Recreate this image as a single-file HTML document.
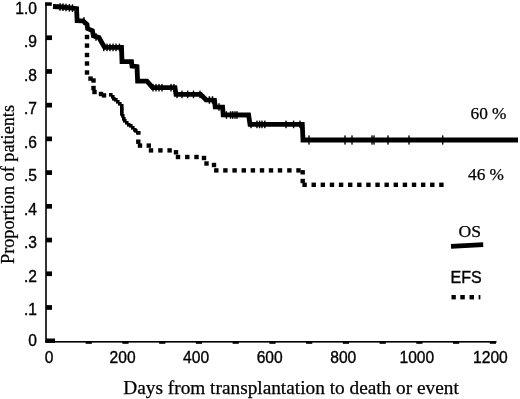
<!DOCTYPE html>
<html><head><meta charset="utf-8"><title>Survival</title>
<style>html,body{margin:0;padding:0;background:#fff}body{width:520px;height:399px;position:relative;overflow:hidden}</style>
</head><body>
<svg width="520" height="399" viewBox="0 0 520 399" style="position:absolute;left:0;top:0">
<rect x="45.2" y="2.5" width="1.6" height="340" fill="#000"/>
<rect x="45" y="341" width="451.5" height="1.6" fill="#000"/>
<rect x="46" y="338.5" width="9" height="4.5" fill="#000"/>
<rect x="46" y="305.13" width="6" height="4.7" fill="#000"/>
<rect x="46" y="271.41" width="6" height="4.7" fill="#000"/>
<rect x="46" y="237.69" width="6" height="4.7" fill="#000"/>
<rect x="46" y="203.97" width="6" height="4.7" fill="#000"/>
<rect x="46" y="170.25" width="6" height="4.7" fill="#000"/>
<rect x="46" y="136.53" width="6" height="4.7" fill="#000"/>
<rect x="46" y="102.81" width="6" height="4.7" fill="#000"/>
<rect x="46" y="69.09" width="6" height="4.7" fill="#000"/>
<rect x="46" y="35.37" width="6" height="4.7" fill="#000"/>
<rect x="45.2" y="2.3" width="6.6" height="3.5" fill="#000"/>
<rect x="85.64" y="342" width="6.2" height="1.8" fill="#000"/>
<rect x="122.38" y="342" width="6.2" height="1.8" fill="#000"/>
<rect x="159.12" y="342" width="6.2" height="1.8" fill="#000"/>
<rect x="195.86" y="342" width="6.2" height="1.8" fill="#000"/>
<rect x="232.60" y="342" width="6.2" height="1.8" fill="#000"/>
<rect x="269.34" y="342" width="6.2" height="1.8" fill="#000"/>
<rect x="306.08" y="342" width="6.2" height="1.8" fill="#000"/>
<rect x="342.82" y="342" width="6.2" height="1.8" fill="#000"/>
<rect x="379.56" y="342" width="6.2" height="1.8" fill="#000"/>
<rect x="416.30" y="342" width="6.2" height="1.8" fill="#000"/>
<rect x="453.04" y="342" width="6.2" height="1.8" fill="#000"/>
<rect x="489.78" y="342" width="6.2" height="1.8" fill="#000"/>
<polyline points="53,6.5 62,7 76.6,8.6 77.1,20.6 83,20.8 87,24.5 87.6,28.6 92.4,30.6 93.4,35.8 99,37.6 101.6,42.2 104.6,47.3 121.5,47.4 122,61.6 131.5,61.7 132,66 137,66.6 137.6,81.2 147,81.2 152.6,87.6 175,87.7 176,94.4 200.6,94.4 206,99.8 214.5,100.2 215.2,106.8 222.6,107 223.2,114.8 248.6,115 250,124.4 302.3,124.4 303,140 518,140" fill="none" stroke="#000" stroke-width="4.8" stroke-linejoin="miter"/>
<rect x="59.30" y="3.20" width="1.4" height="7.6" fill="#000"/>
<rect x="62.30" y="3.40" width="1.4" height="7.6" fill="#000"/>
<rect x="65.30" y="3.70" width="1.4" height="7.6" fill="#000"/>
<rect x="68.70" y="4.00" width="1.4" height="7.6" fill="#000"/>
<rect x="71.80" y="4.30" width="1.4" height="7.6" fill="#000"/>
<rect x="83.30" y="17.20" width="1.4" height="7.6" fill="#000"/>
<rect x="95.30" y="33.20" width="1.4" height="7.6" fill="#000"/>
<rect x="103.05" y="43.60" width="1.4" height="7.6" fill="#000"/>
<rect x="106.30" y="43.60" width="1.4" height="7.6" fill="#000"/>
<rect x="109.30" y="43.60" width="1.4" height="7.6" fill="#000"/>
<rect x="112.30" y="43.60" width="1.4" height="7.6" fill="#000"/>
<rect x="115.30" y="43.60" width="1.4" height="7.6" fill="#000"/>
<rect x="118.70" y="43.60" width="1.4" height="7.6" fill="#000"/>
<rect x="152.30" y="83.90" width="1.4" height="7.6" fill="#000"/>
<rect x="155.30" y="83.90" width="1.4" height="7.6" fill="#000"/>
<rect x="158.30" y="83.90" width="1.4" height="7.6" fill="#000"/>
<rect x="161.30" y="83.90" width="1.4" height="7.6" fill="#000"/>
<rect x="170.30" y="83.90" width="1.4" height="7.6" fill="#000"/>
<rect x="173.30" y="83.90" width="1.4" height="7.6" fill="#000"/>
<rect x="176.30" y="90.60" width="1.4" height="7.6" fill="#000"/>
<rect x="181.30" y="90.60" width="1.4" height="7.6" fill="#000"/>
<rect x="187.00" y="90.60" width="1.4" height="7.6" fill="#000"/>
<rect x="192.80" y="90.60" width="1.4" height="7.6" fill="#000"/>
<rect x="199.30" y="90.60" width="1.4" height="7.6" fill="#000"/>
<rect x="208.70" y="96.20" width="1.4" height="7.6" fill="#000"/>
<rect x="211.80" y="96.20" width="1.4" height="7.6" fill="#000"/>
<rect x="218.30" y="103.20" width="1.4" height="7.6" fill="#000"/>
<rect x="225.70" y="111.20" width="1.4" height="7.6" fill="#000"/>
<rect x="229.90" y="111.20" width="1.4" height="7.6" fill="#000"/>
<rect x="232.00" y="111.20" width="1.4" height="7.6" fill="#000"/>
<rect x="234.30" y="111.20" width="1.4" height="7.6" fill="#000"/>
<rect x="236.30" y="111.20" width="1.4" height="7.6" fill="#000"/>
<rect x="250.30" y="120.60" width="1.4" height="7.6" fill="#000"/>
<rect x="256.30" y="120.60" width="1.4" height="7.6" fill="#000"/>
<rect x="258.90" y="120.60" width="1.4" height="7.6" fill="#000"/>
<rect x="261.30" y="120.60" width="1.4" height="7.6" fill="#000"/>
<rect x="264.10" y="120.60" width="1.4" height="7.6" fill="#000"/>
<rect x="285.30" y="120.60" width="1.4" height="7.6" fill="#000"/>
<rect x="292.90" y="120.60" width="1.4" height="7.6" fill="#000"/>
<rect x="299.30" y="120.60" width="1.4" height="7.6" fill="#000"/>
<rect x="308.30" y="135.40" width="1.4" height="9.2" fill="#000"/>
<rect x="344.30" y="135.40" width="1.4" height="9.2" fill="#000"/>
<rect x="351.30" y="135.40" width="1.4" height="9.2" fill="#000"/>
<rect x="371.30" y="135.40" width="1.4" height="9.2" fill="#000"/>
<rect x="373.30" y="135.40" width="1.4" height="9.2" fill="#000"/>
<rect x="387.30" y="135.40" width="1.4" height="9.2" fill="#000"/>
<rect x="408.30" y="135.40" width="1.4" height="9.2" fill="#000"/>
<rect x="442.00" y="135.40" width="1.4" height="9.2" fill="#000"/>
<rect x="84.80" y="34.80" width="4.4" height="4.4" fill="#000"/>
<rect x="84.80" y="43.40" width="4.4" height="4.4" fill="#000"/>
<rect x="84.80" y="52.80" width="4.4" height="4.4" fill="#000"/>
<rect x="84.80" y="61.30" width="4.4" height="4.4" fill="#000"/>
<rect x="84.80" y="70.30" width="4.4" height="4.4" fill="#000"/>
<rect x="88.30" y="76.40" width="4.4" height="4.4" fill="#000"/>
<rect x="91.30" y="78.30" width="4.4" height="4.4" fill="#000"/>
<rect x="91.30" y="85.80" width="4.4" height="4.4" fill="#000"/>
<rect x="92.30" y="89.80" width="4.4" height="4.4" fill="#000"/>
<rect x="98.80" y="91.80" width="4.4" height="4.4" fill="#000"/>
<rect x="101.80" y="93.20" width="4.4" height="4.4" fill="#000"/>
<rect x="136.10" y="139.50" width="4.4" height="4.4" fill="#000"/>
<rect x="137.80" y="143.40" width="4.4" height="4.4" fill="#000"/>
<rect x="146.60" y="143.40" width="4.4" height="4.4" fill="#000"/>
<rect x="148.80" y="148.20" width="4.4" height="4.4" fill="#000"/>
<rect x="158.20" y="148.20" width="4.4" height="4.4" fill="#000"/>
<rect x="167.40" y="148.20" width="4.4" height="4.4" fill="#000"/>
<rect x="173.80" y="150.10" width="4.4" height="4.4" fill="#000"/>
<rect x="175.80" y="154.80" width="4.4" height="4.4" fill="#000"/>
<rect x="185.10" y="154.80" width="4.4" height="4.4" fill="#000"/>
<rect x="194.30" y="154.80" width="4.4" height="4.4" fill="#000"/>
<rect x="201.80" y="155.80" width="4.4" height="4.4" fill="#000"/>
<rect x="204.30" y="161.30" width="4.4" height="4.4" fill="#000"/>
<rect x="211.80" y="162.80" width="4.4" height="4.4" fill="#000"/>
<rect x="214.10" y="168.20" width="4.4" height="4.4" fill="#000"/>
<rect x="223.20" y="168.20" width="4.4" height="4.4" fill="#000"/>
<rect x="232.40" y="168.20" width="4.4" height="4.4" fill="#000"/>
<rect x="241.60" y="168.20" width="4.4" height="4.4" fill="#000"/>
<rect x="250.70" y="168.20" width="4.4" height="4.4" fill="#000"/>
<rect x="259.80" y="168.20" width="4.4" height="4.4" fill="#000"/>
<rect x="268.80" y="168.20" width="4.4" height="4.4" fill="#000"/>
<rect x="277.80" y="168.20" width="4.4" height="4.4" fill="#000"/>
<rect x="287.20" y="168.20" width="4.4" height="4.4" fill="#000"/>
<rect x="296.30" y="168.20" width="4.4" height="4.4" fill="#000"/>
<rect x="300.50" y="170.10" width="4.4" height="4.4" fill="#000"/>
<rect x="300.50" y="178.80" width="4.4" height="4.4" fill="#000"/>
<rect x="302.40" y="182.60" width="4.4" height="4.4" fill="#000"/>
<rect x="311.52" y="182.60" width="4.4" height="4.4" fill="#000"/>
<rect x="320.64" y="182.60" width="4.4" height="4.4" fill="#000"/>
<rect x="329.76" y="182.60" width="4.4" height="4.4" fill="#000"/>
<rect x="338.88" y="182.60" width="4.4" height="4.4" fill="#000"/>
<rect x="348.00" y="182.60" width="4.4" height="4.4" fill="#000"/>
<rect x="357.12" y="182.60" width="4.4" height="4.4" fill="#000"/>
<rect x="366.24" y="182.60" width="4.4" height="4.4" fill="#000"/>
<rect x="375.36" y="182.60" width="4.4" height="4.4" fill="#000"/>
<rect x="384.48" y="182.60" width="4.4" height="4.4" fill="#000"/>
<rect x="393.60" y="182.60" width="4.4" height="4.4" fill="#000"/>
<rect x="402.72" y="182.60" width="4.4" height="4.4" fill="#000"/>
<rect x="411.84" y="182.60" width="4.4" height="4.4" fill="#000"/>
<rect x="420.96" y="182.60" width="4.4" height="4.4" fill="#000"/>
<rect x="430.08" y="182.60" width="4.4" height="4.4" fill="#000"/>
<rect x="439.20" y="182.60" width="4.4" height="4.4" fill="#000"/>
<rect x="109" y="93" width="3.6" height="3.6" fill="#000"/>
<rect x="111" y="95" width="3.6" height="3.6" fill="#000"/>
<rect x="112" y="97" width="3.6" height="3.6" fill="#000"/>
<rect x="114" y="98" width="3.6" height="3.6" fill="#000"/>
<rect x="116" y="100" width="3.6" height="3.6" fill="#000"/>
<rect x="118" y="102" width="3.6" height="3.6" fill="#000"/>
<rect x="120" y="104" width="3.6" height="3.6" fill="#000"/>
<rect x="120" y="107" width="3.6" height="3.6" fill="#000"/>
<rect x="120" y="109" width="3.6" height="3.6" fill="#000"/>
<rect x="120" y="112" width="3.6" height="3.6" fill="#000"/>
<rect x="121" y="114" width="3.6" height="3.6" fill="#000"/>
<rect x="122" y="117" width="3.6" height="3.6" fill="#000"/>
<rect x="123" y="119" width="3.6" height="3.6" fill="#000"/>
<rect x="125" y="121" width="3.6" height="3.6" fill="#000"/>
<rect x="127" y="123" width="3.6" height="3.6" fill="#000"/>
<rect x="129" y="124" width="3.6" height="3.6" fill="#000"/>
<rect x="131" y="126" width="3.6" height="3.6" fill="#000"/>
<rect x="133" y="128" width="3.6" height="3.6" fill="#000"/>
<rect x="134" y="129" width="3.6" height="3.6" fill="#000"/>
<rect x="136" y="131" width="3.6" height="3.6" fill="#000"/>
<rect x="137" y="131" width="3.6" height="3.6" fill="#000"/>
<line x1="451" y1="246.4" x2="483.2" y2="244.7" stroke="#000" stroke-width="4.8"/>
<rect x="451.5" y="295" width="4.300000000000011" height="4.4" fill="#000"/>
<rect x="460.3" y="295" width="4.5" height="4.4" fill="#000"/>
<rect x="469.5" y="295" width="4.5" height="4.4" fill="#000"/>
<rect x="478.6" y="295" width="1.7999999999999545" height="4.4" fill="#000"/>
<text x="37" y="346.20" text-anchor="end" font-family="Liberation Sans, Arial, sans-serif" stroke="#000" stroke-width="0.35" font-size="15.6">0</text>
<text x="37" y="315.00" text-anchor="end" font-family="Liberation Sans, Arial, sans-serif" stroke="#000" stroke-width="0.35" font-size="15.6">.1</text>
<text x="37" y="281.56" text-anchor="end" font-family="Liberation Sans, Arial, sans-serif" stroke="#000" stroke-width="0.35" font-size="15.6">.2</text>
<text x="37" y="248.12" text-anchor="end" font-family="Liberation Sans, Arial, sans-serif" stroke="#000" stroke-width="0.35" font-size="15.6">.3</text>
<text x="37" y="214.68" text-anchor="end" font-family="Liberation Sans, Arial, sans-serif" stroke="#000" stroke-width="0.35" font-size="15.6">.4</text>
<text x="37" y="181.24" text-anchor="end" font-family="Liberation Sans, Arial, sans-serif" stroke="#000" stroke-width="0.35" font-size="15.6">.5</text>
<text x="37" y="147.80" text-anchor="end" font-family="Liberation Sans, Arial, sans-serif" stroke="#000" stroke-width="0.35" font-size="15.6">.6</text>
<text x="37" y="114.36" text-anchor="end" font-family="Liberation Sans, Arial, sans-serif" stroke="#000" stroke-width="0.35" font-size="15.6">.7</text>
<text x="37" y="80.92" text-anchor="end" font-family="Liberation Sans, Arial, sans-serif" stroke="#000" stroke-width="0.35" font-size="15.6">.8</text>
<text x="37" y="47.48" text-anchor="end" font-family="Liberation Sans, Arial, sans-serif" stroke="#000" stroke-width="0.35" font-size="15.6">.9</text>
<text x="37" y="13.70" text-anchor="end" font-family="Liberation Sans, Arial, sans-serif" stroke="#000" stroke-width="0.35" font-size="15.6">1.0</text>
<text x="49.00" y="363.4" text-anchor="middle" font-family="Liberation Sans, Arial, sans-serif" stroke="#000" stroke-width="0.35" font-size="15.6">0</text>
<text x="122.57" y="363.4" text-anchor="middle" font-family="Liberation Sans, Arial, sans-serif" stroke="#000" stroke-width="0.35" font-size="15.6">200</text>
<text x="196.14" y="363.4" text-anchor="middle" font-family="Liberation Sans, Arial, sans-serif" stroke="#000" stroke-width="0.35" font-size="15.6">400</text>
<text x="269.71" y="363.4" text-anchor="middle" font-family="Liberation Sans, Arial, sans-serif" stroke="#000" stroke-width="0.35" font-size="15.6">600</text>
<text x="343.28" y="363.4" text-anchor="middle" font-family="Liberation Sans, Arial, sans-serif" stroke="#000" stroke-width="0.35" font-size="15.6">800</text>
<text x="416.85" y="363.4" text-anchor="middle" font-family="Liberation Sans, Arial, sans-serif" stroke="#000" stroke-width="0.35" font-size="15.6">1000</text>
<text x="490.42" y="363.4" text-anchor="middle" font-family="Liberation Sans, Arial, sans-serif" stroke="#000" stroke-width="0.35" font-size="15.6">1200</text>
<text x="123.3" y="393.8" font-family="Liberation Serif, Times New Roman, serif" stroke="#000" stroke-width="0.25" font-size="19" textLength="335.5" lengthAdjust="spacingAndGlyphs">Days from transplantation to death or event</text>
<text transform="translate(14.4,264) rotate(-90)" font-family="Liberation Serif, Times New Roman, serif" stroke="#000" stroke-width="0.25" font-size="19" textLength="159" lengthAdjust="spacingAndGlyphs">Proportion of patients</text>
<text x="470.5" y="119" font-family="Liberation Serif, Times New Roman, serif" stroke="#000" stroke-width="0.25" font-size="17.3">60 %</text>
<text x="468" y="180" font-family="Liberation Serif, Times New Roman, serif" stroke="#000" stroke-width="0.25" font-size="17.3">46 %</text>
<text x="458.5" y="237" font-family="Liberation Serif, Times New Roman, serif" stroke="#000" stroke-width="0.25" font-size="17.6">OS</text>
<text x="450.5" y="283" font-family="Liberation Sans, Arial, sans-serif" stroke="#000" stroke-width="0.35" font-size="16">EFS</text>
</svg>
</body></html>
